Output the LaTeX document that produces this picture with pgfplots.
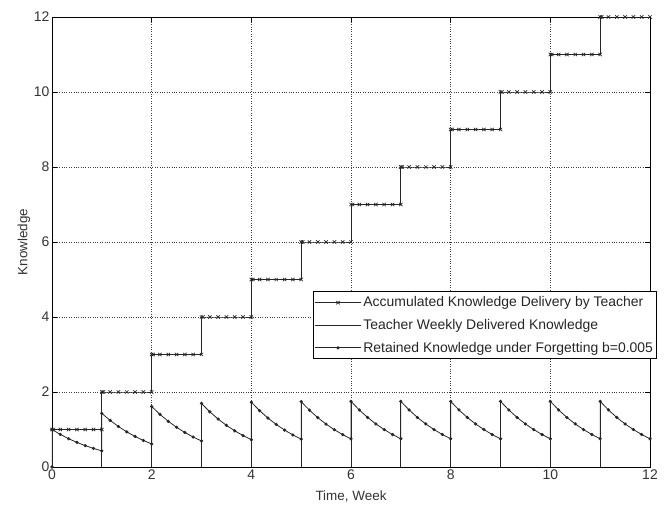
\documentclass[border=0pt]{standalone}
\usepackage{fontspec}
\setmainfont{Liberation Sans}
\usepackage{pgfplots}
\pgfplotsset{compat=1.18}
\pgfplotsset{
  markleg/.style={legend image code/.code={\draw[mark repeat=2,mark phase=2,##1] plot coordinates {(0bp,0bp)(23bp,0bp)(46bp,0bp)};}},
  lineleg/.style={legend image code/.code={\draw[##1] (0bp,0bp)--(46bp,0bp);}},
}
\begin{document}
\begin{tikzpicture}
\begin{axis}[
  scale only axis,
  width=598bp, height=450bp,
  xmin=0, xmax=12, ymin=0, ymax=12,
  xtick={0,2,...,12}, ytick={0,2,...,12},
  grid=major,
  grid style={black!75, dotted, line width=0.6pt},
  axis line style={black, line width=0.8pt},
  tick style={black, line width=0.7pt},
  major tick length=5bp,
  tick align=inside,
  xtick pos=both, ytick pos=both,
  /pgf/number format/assume math mode=true,
  tick label style={font=\fontsize{14}{16}\selectfont, black!80},
  xticklabel style={yshift=1bp},
  yticklabel style={xshift=1bp},
  xlabel={Time, Week}, ylabel={Knowledge},
  label style={font=\fontsize{13.5}{15}\selectfont, black!80},
  xlabel style={yshift=-5bp},
  ylabel style={yshift=-3bp},
  legend style={at={(rel axis cs:0.436,0.390)}, anchor=north west,
    font=\fontsize{14}{16}\selectfont, draw=black, line width=0.8pt,
    inner xsep=1.5bp, inner ysep=3bp, row sep=7bp, text=black!85},
  legend cell align=left,
]
% Accumulated knowledge delivery (step with x marks)
\addplot[black!85, line width=0.8pt, mark=x, mark size=2.4pt, mark options={line width=0.7pt}, markleg] coordinates {
(0,1)(0.03,1)(0.1667,1)(0.3333,1)(0.5,1)(0.6667,1)(0.8333,1)(1,1)
(1,2)(1.03,2)(1.1667,2)(1.3333,2)(1.5,2)(1.6667,2)(1.8333,2)(2,2)
(2,3)(2.03,3)(2.1667,3)(2.3333,3)(2.5,3)(2.6667,3)(2.8333,3)(3,3)
(3,4)(3.03,4)(3.1667,4)(3.3333,4)(3.5,4)(3.6667,4)(3.8333,4)(4,4)
(4,5)(4.03,5)(4.1667,5)(4.3333,5)(4.5,5)(4.6667,5)(4.8333,5)(5,5)
(5,6)(5.03,6)(5.1667,6)(5.3333,6)(5.5,6)(5.6667,6)(5.8333,6)(6,6)
(6,7)(6.03,7)(6.1667,7)(6.3333,7)(6.5,7)(6.6667,7)(6.8333,7)(7,7)
(7,8)(7.03,8)(7.1667,8)(7.3333,8)(7.5,8)(7.6667,8)(7.8333,8)(8,8)
(8,9)(8.03,9)(8.1667,9)(8.3333,9)(8.5,9)(8.6667,9)(8.8333,9)(9,9)
(9,10)(9.03,10)(9.1667,10)(9.3333,10)(9.5,10)(9.6667,10)(9.8333,10)(10,10)
(10,11)(10.03,11)(10.1667,11)(10.3333,11)(10.5,11)(10.6667,11)(10.8333,11)(11,11)
(11,12)(11.03,12)(11.1667,12)(11.3333,12)(11.5,12)(11.6667,12)(11.8333,12)(12,12)
};
\addlegendentry{Accumulated Knowledge Delivery by Teacher}
% Teacher weekly delivered knowledge (impulses)
\addplot[black!85, line width=0.8pt, ycomb, no marks, lineleg] coordinates {
(0,1)(1,1.43)(2,1.615)(3,1.694)(4,1.728)(5,1.743)(6,1.75)(7,1.75)(8,1.75)(9,1.75)(10,1.75)(11,1.75)
};
\addlegendentry{Teacher Weekly Delivered Knowledge}
% Retained knowledge under forgetting
\addplot[black!85, line width=0.8pt, mark=*, mark size=1.2pt, markleg] coordinates {
(0,0)(0,1)(0.1667,0.869)(0.3333,0.755)(0.5,0.656)(0.6667,0.570)(0.8333,0.495)(1,0.430)
(1,1.43)(1.1667,1.243)(1.3333,1.080)(1.5,0.938)(1.6667,0.815)(1.8333,0.708)(2,0.615)
(2,1.615)(2.1667,1.403)(2.3333,1.219)(2.5,1.059)(2.6667,0.921)(2.8333,0.799)(3,0.694)
(3,1.694)(3.1667,1.472)(3.3333,1.279)(3.5,1.111)(3.6667,0.966)(3.8333,0.839)(4,0.728)
(4,1.728)(4.1667,1.502)(4.3333,1.305)(4.5,1.134)(4.6667,0.985)(4.8333,0.855)(5,0.743)
(5,1.743)(5.1667,1.515)(5.3333,1.316)(5.5,1.143)(5.6667,0.994)(5.8333,0.863)(6,0.750)
(6,1.75)(6.1667,1.521)(6.3333,1.321)(6.5,1.148)(6.6667,0.998)(6.8333,0.866)(7,0.753)
(7,1.75)(7.1667,1.521)(7.3333,1.321)(7.5,1.148)(7.6667,0.998)(7.8333,0.866)(8,0.753)
(8,1.75)(8.1667,1.521)(8.3333,1.321)(8.5,1.148)(8.6667,0.998)(8.8333,0.866)(9,0.753)
(9,1.75)(9.1667,1.521)(9.3333,1.321)(9.5,1.148)(9.6667,0.998)(9.8333,0.866)(10,0.753)
(10,1.75)(10.1667,1.521)(10.3333,1.321)(10.5,1.148)(10.6667,0.998)(10.8333,0.866)(11,0.753)
(11,1.75)(11.1667,1.521)(11.3333,1.321)(11.5,1.148)(11.6667,0.998)(11.8333,0.866)(12,0.753)
};
\addlegendentry{Retained Knowledge under Forgetting b=0.005}
\end{axis}
\pgfresetboundingbox
\path ([shift={(-52bp,-41bp)}]current axis.south west) rectangle ([shift={(15bp,17bp)}]current axis.north east);
\end{tikzpicture}
\end{document}
